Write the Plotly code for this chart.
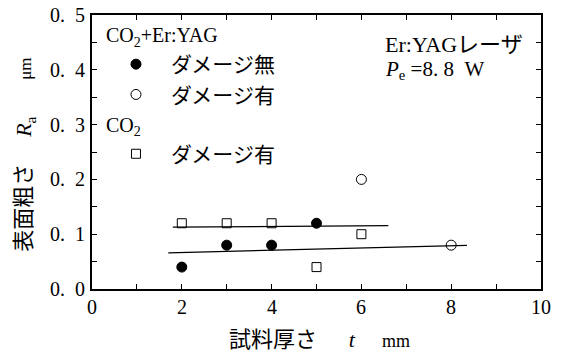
import plotly.graph_objects as go

# Sample thickness t (mm) and surface roughness Ra (um)
t_nodamage = [2, 3, 4, 5]
ra_nodamage = [0.04, 0.08, 0.08, 0.12]
t_damage = [6, 8]
ra_damage = [0.20, 0.08]
t_co2 = [2, 3, 4, 5, 6]
ra_co2 = [0.12, 0.12, 0.12, 0.04, 0.10]

# Trend lines (end points)
fit_upper_t = [1.8, 6.6]
fit_upper_ra = [0.113, 0.1155]
fit_lower_t = [1.7, 8.35]
fit_lower_ra = [0.066, 0.0797]

# Tick marks (major + minor) and labelled ticks
x_ticks = [0, 1, 2, 3, 4, 5, 6, 7, 8, 9, 10]
y_ticks = [0.0, 0.05, 0.1, 0.15, 0.2, 0.25, 0.3, 0.35, 0.4, 0.45, 0.5]
x_label_vals = [0, 2, 4, 6, 8, 10]
x_labels = ["0", "2", "4", "6", "8", "10"]
y_label_vals = [0.0, 0.1, 0.2, 0.3, 0.4, 0.5]
y_labels = ["0.\u00a0\u00a00", "0.\u00a0\u00a01", "0.\u00a0\u00a02",
            "0.\u00a0\u00a03", "0.\u00a0\u00a04", "0.\u00a0\u00a05"]

SERIF = "Liberation Serif"
JP = "Noto Sans CJK JP"
NB = "\u00a0"
IS = "\u3000"

fig = go.Figure()

fig.add_trace(go.Scatter(x=fit_upper_t, y=fit_upper_ra, mode="lines",
                         line=dict(color="black", width=1.2), showlegend=False))
fig.add_trace(go.Scatter(x=fit_lower_t, y=fit_lower_ra, mode="lines",
                         line=dict(color="black", width=1.2), showlegend=False))

fig.add_trace(go.Scatter(
    x=t_nodamage, y=ra_nodamage, mode="markers", name="ダメージ無",
    legendgroup="a",
    legendgrouptitle=dict(text="CO<sub>2</sub>+Er:YAG", font=dict(family=SERIF, size=20, color="black")),
    marker=dict(symbol="circle", size=10, color="black", line=dict(color="black", width=1))))
fig.add_trace(go.Scatter(
    x=t_damage, y=ra_damage, mode="markers", name="ダメージ有",
    legendgroup="a",
    marker=dict(symbol="circle-open", size=10, color="black", line=dict(color="black", width=1))))
fig.add_trace(go.Scatter(
    x=t_co2, y=ra_co2, mode="markers", name="ダメージ有",
    legendgroup="b",
    legendgrouptitle=dict(text="CO<sub>2</sub>", font=dict(family=SERIF, size=20, color="black")),
    marker=dict(symbol="square-open", size=9, color="black", line=dict(color="black", width=1))))

axis_style = dict(
    showline=True, linecolor="black", linewidth=1.5, mirror="ticks",
    ticks="inside", ticklen=5, tickwidth=1, tickcolor="black",
    showgrid=False, zeroline=False, showticklabels=False,
)

fig.update_layout(
    width=562, height=356,
    margin=dict(l=92, r=21, t=15, b=67),
    paper_bgcolor="white", plot_bgcolor="white",
    font=dict(family=SERIF, size=19, color="black"),
    legend=dict(x=0.02, y=1.0, xanchor="left", yanchor="top",
                bgcolor="rgba(0,0,0,0)", traceorder="grouped",
                font=dict(family=JP, size=21, color="black"),
                itemwidth=60, tracegroupgap=0),
    xaxis=dict(range=[0, 10], tickmode="array", tickvals=x_ticks, **axis_style),
    yaxis=dict(range=[0, 0.5], tickmode="array", tickvals=y_ticks, **axis_style),
)

# Tick labels in a serif face
tick_font = dict(family=SERIF, size=20, color="black")
for v, s in zip(x_label_vals, x_labels):
    fig.add_annotation(x=v, y=-0.066, xref="x", yref="paper", xanchor="center", yanchor="middle",
                       text=s, showarrow=False, font=tick_font)
for v, s in zip(y_label_vals, y_labels):
    fig.add_annotation(x=-0.011, y=v, xref="paper", yref="y", xanchor="right", yanchor="middle",
                       text=s, showarrow=False, font=tick_font)

# Axis titles
fig.add_annotation(
    x=0.30, y=-0.175, xref="paper", yref="paper", xanchor="left", yanchor="middle",
    text=(f"<span style='font-family:{JP}'>試料厚さ{IS}{NB}{NB}</span>"
          f"<i>t</i><span style='font-family:{JP}'>{IS}{NB}</span><span style='font-size:18px'>mm</span>"),
    showarrow=False, font=dict(family=SERIF, size=22, color="black"))
fig.add_annotation(
    x=-0.155, y=0.13, xref="paper", yref="paper", xanchor="center", yanchor="bottom",
    textangle=-90,
    text=(f"<span style='font-family:{JP}'>表面粗さ{IS}{NB}</span>"
          f"<i>R</i><sub>a</sub><span style='font-family:{JP}'>{IS}{NB}{NB}{NB}</span>"
          f"<span style='font-size:17px'>μm</span>"),
    showarrow=False, font=dict(family=SERIF, size=22, color="black"))

fig.add_annotation(x=0.648, y=0.90, xref="paper", yref="paper", xanchor="left", yanchor="middle",
                   text=f"Er:YAG<span style='font-family:{JP}'>レーザ</span>", showarrow=False,
                   font=dict(family=SERIF, size=22, color="black"))
fig.add_annotation(x=0.648, y=0.80, xref="paper", yref="paper", xanchor="left", yanchor="middle",
                   text=f"<i>P</i><sub>e</sub>{NB}=8.{NB}8{NB}{NB}W", showarrow=False,
                   font=dict(family=SERIF, size=21, color="black"))

fig.write_html("out.html")
